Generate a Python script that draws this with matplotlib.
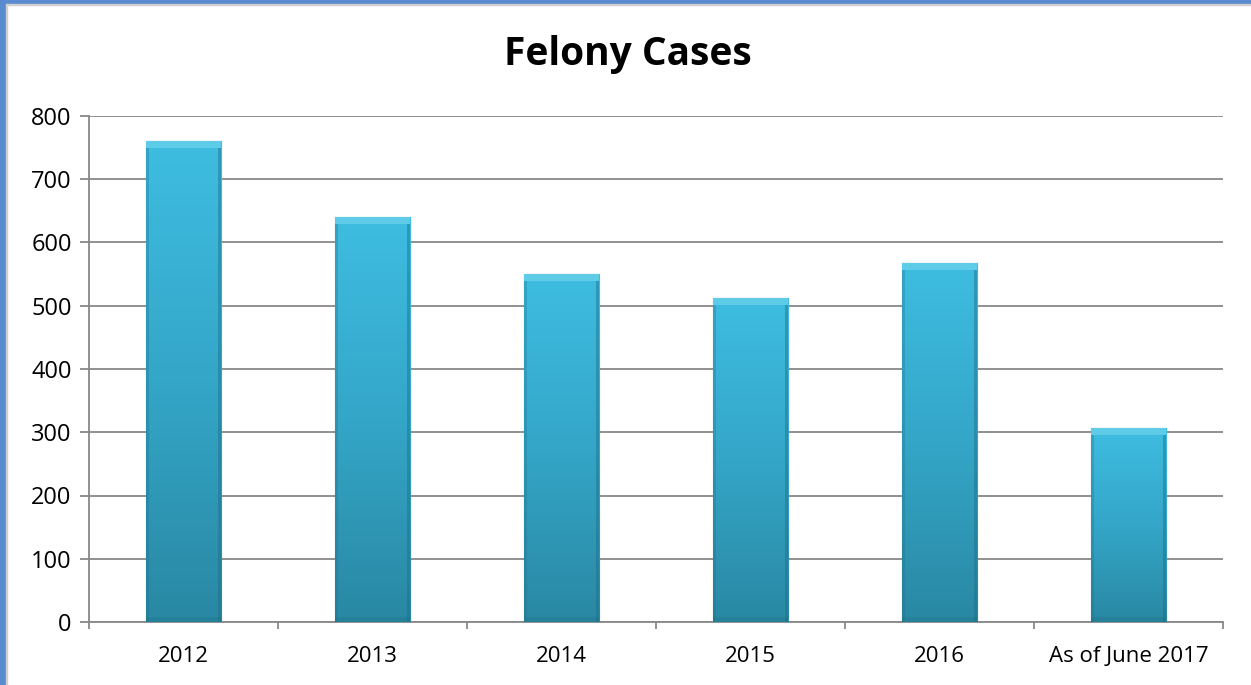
import matplotlib
matplotlib.use("Agg")
import matplotlib.pyplot as plt
import numpy as np
from matplotlib.patches import Rectangle
from matplotlib.colors import LinearSegmentedColormap

categories = ["2012", "2013", "2014", "2015", "2016", "As of June 2017"]
values = [760, 640, 550, 513, 568, 306]
yticks = [0, 100, 200, 300, 400, 500, 600, 700, 800]
title = "Felony Cases"

plt.rcParams['font.family'] = ['Open Sans', 'DejaVu Sans']

W, H = 1251, 685
fig = plt.figure(figsize=(W/100, H/100), dpi=100)
fig.patch.set_facecolor("white")

# border stripes
fig.patches.append(Rectangle((0, 0), 6/W, 1, transform=fig.transFigure, color="#5A8AD0", zorder=0))
fig.patches.append(Rectangle((0, 1-4/H), 1, 4/H, transform=fig.transFigure, color="#5A8AD0", zorder=0))
fig.patches.append(Rectangle((6/W, 0), 1/W, 1-4/H, transform=fig.transFigure, color="#D0D0D0", zorder=0))
fig.patches.append(Rectangle((6/W, 1-5/H), 1, 1/H, transform=fig.transFigure, color="#D0D0D0", zorder=0))

x0, x1 = 89, 1223
ytop, ybot = 116, 622
ax = fig.add_axes([x0/W, 1-ybot/H, (x1-x0)/W, (ybot-ytop)/H])
ax.set_facecolor("none")

xpos = np.arange(len(categories))
bars = ax.bar(xpos, values, width=0.40, color="#37B0D6", edgecolor="#1F6F85", linewidth=0.8, zorder=3)

# gradient fills with bevel
grad = np.linspace(0, 1, 256).reshape(-1, 1)
cmap = LinearSegmentedColormap.from_list("g", ["#2988A3", "#34A6C8", "#3EBDE1"])
for b in bars:
    bx, by = b.get_x(), b.get_y()
    bw, bh = b.get_width(), b.get_height()
    im = ax.imshow(grad, extent=[bx, bx+bw, by, by+bh], origin="lower", cmap=cmap,
                   aspect="auto", zorder=3.5)
    im.set_clip_path(b)
    top_h = 800 * 7/506
    ax.add_patch(Rectangle((bx, by+bh-top_h), bw, top_h, color="#7BD8F0", alpha=0.55, zorder=4, lw=0))
    sw = bw*0.045
    ax.add_patch(Rectangle((bx, by), sw, bh-top_h, color="#1E6E86", alpha=0.3, zorder=4, lw=0))
    ax.add_patch(Rectangle((bx+bw-sw, by), sw, bh-top_h, color="#1E6E86", alpha=0.45, zorder=4, lw=0))
    bot_h = 800 * 5/506
    ax.add_patch(Rectangle((bx, by), bw, bot_h, color="#1E6E86", alpha=0.3, zorder=4, lw=0))
ax.set_xlim(-0.5, len(categories)-0.5)
ax.set_ylim(0, 800)

ax.set_yticks(yticks)
ax.set_yticklabels([str(v) for v in yticks], fontsize=17)
ax.grid(axis="y", color="#888888", linewidth=1.3, zorder=1)
ax.set_axisbelow(True)

ax.set_xticks(xpos)
ax.set_xticklabels(categories, fontsize=16)
ax.set_xticks(np.arange(-0.5, len(categories)), minor=True)
ax.tick_params(axis="x", which="major", length=0, pad=17)
ax.tick_params(axis="x", which="minor", length=5, color="#888888", width=1.3, direction="out")
ax.tick_params(axis="y", length=6.5, color="#888888", width=1.3, pad=6)

for s in ["top", "right"]:
    ax.spines[s].set_visible(False)
for s in ["left", "bottom"]:
    ax.spines[s].set_color("#888888")
    ax.spines[s].set_linewidth(1.3)

fig.text(628/W, 1-54/H, title, ha="center", va="center", fontsize=28, fontweight="bold")

fig.savefig("out.png", dpi=100)
